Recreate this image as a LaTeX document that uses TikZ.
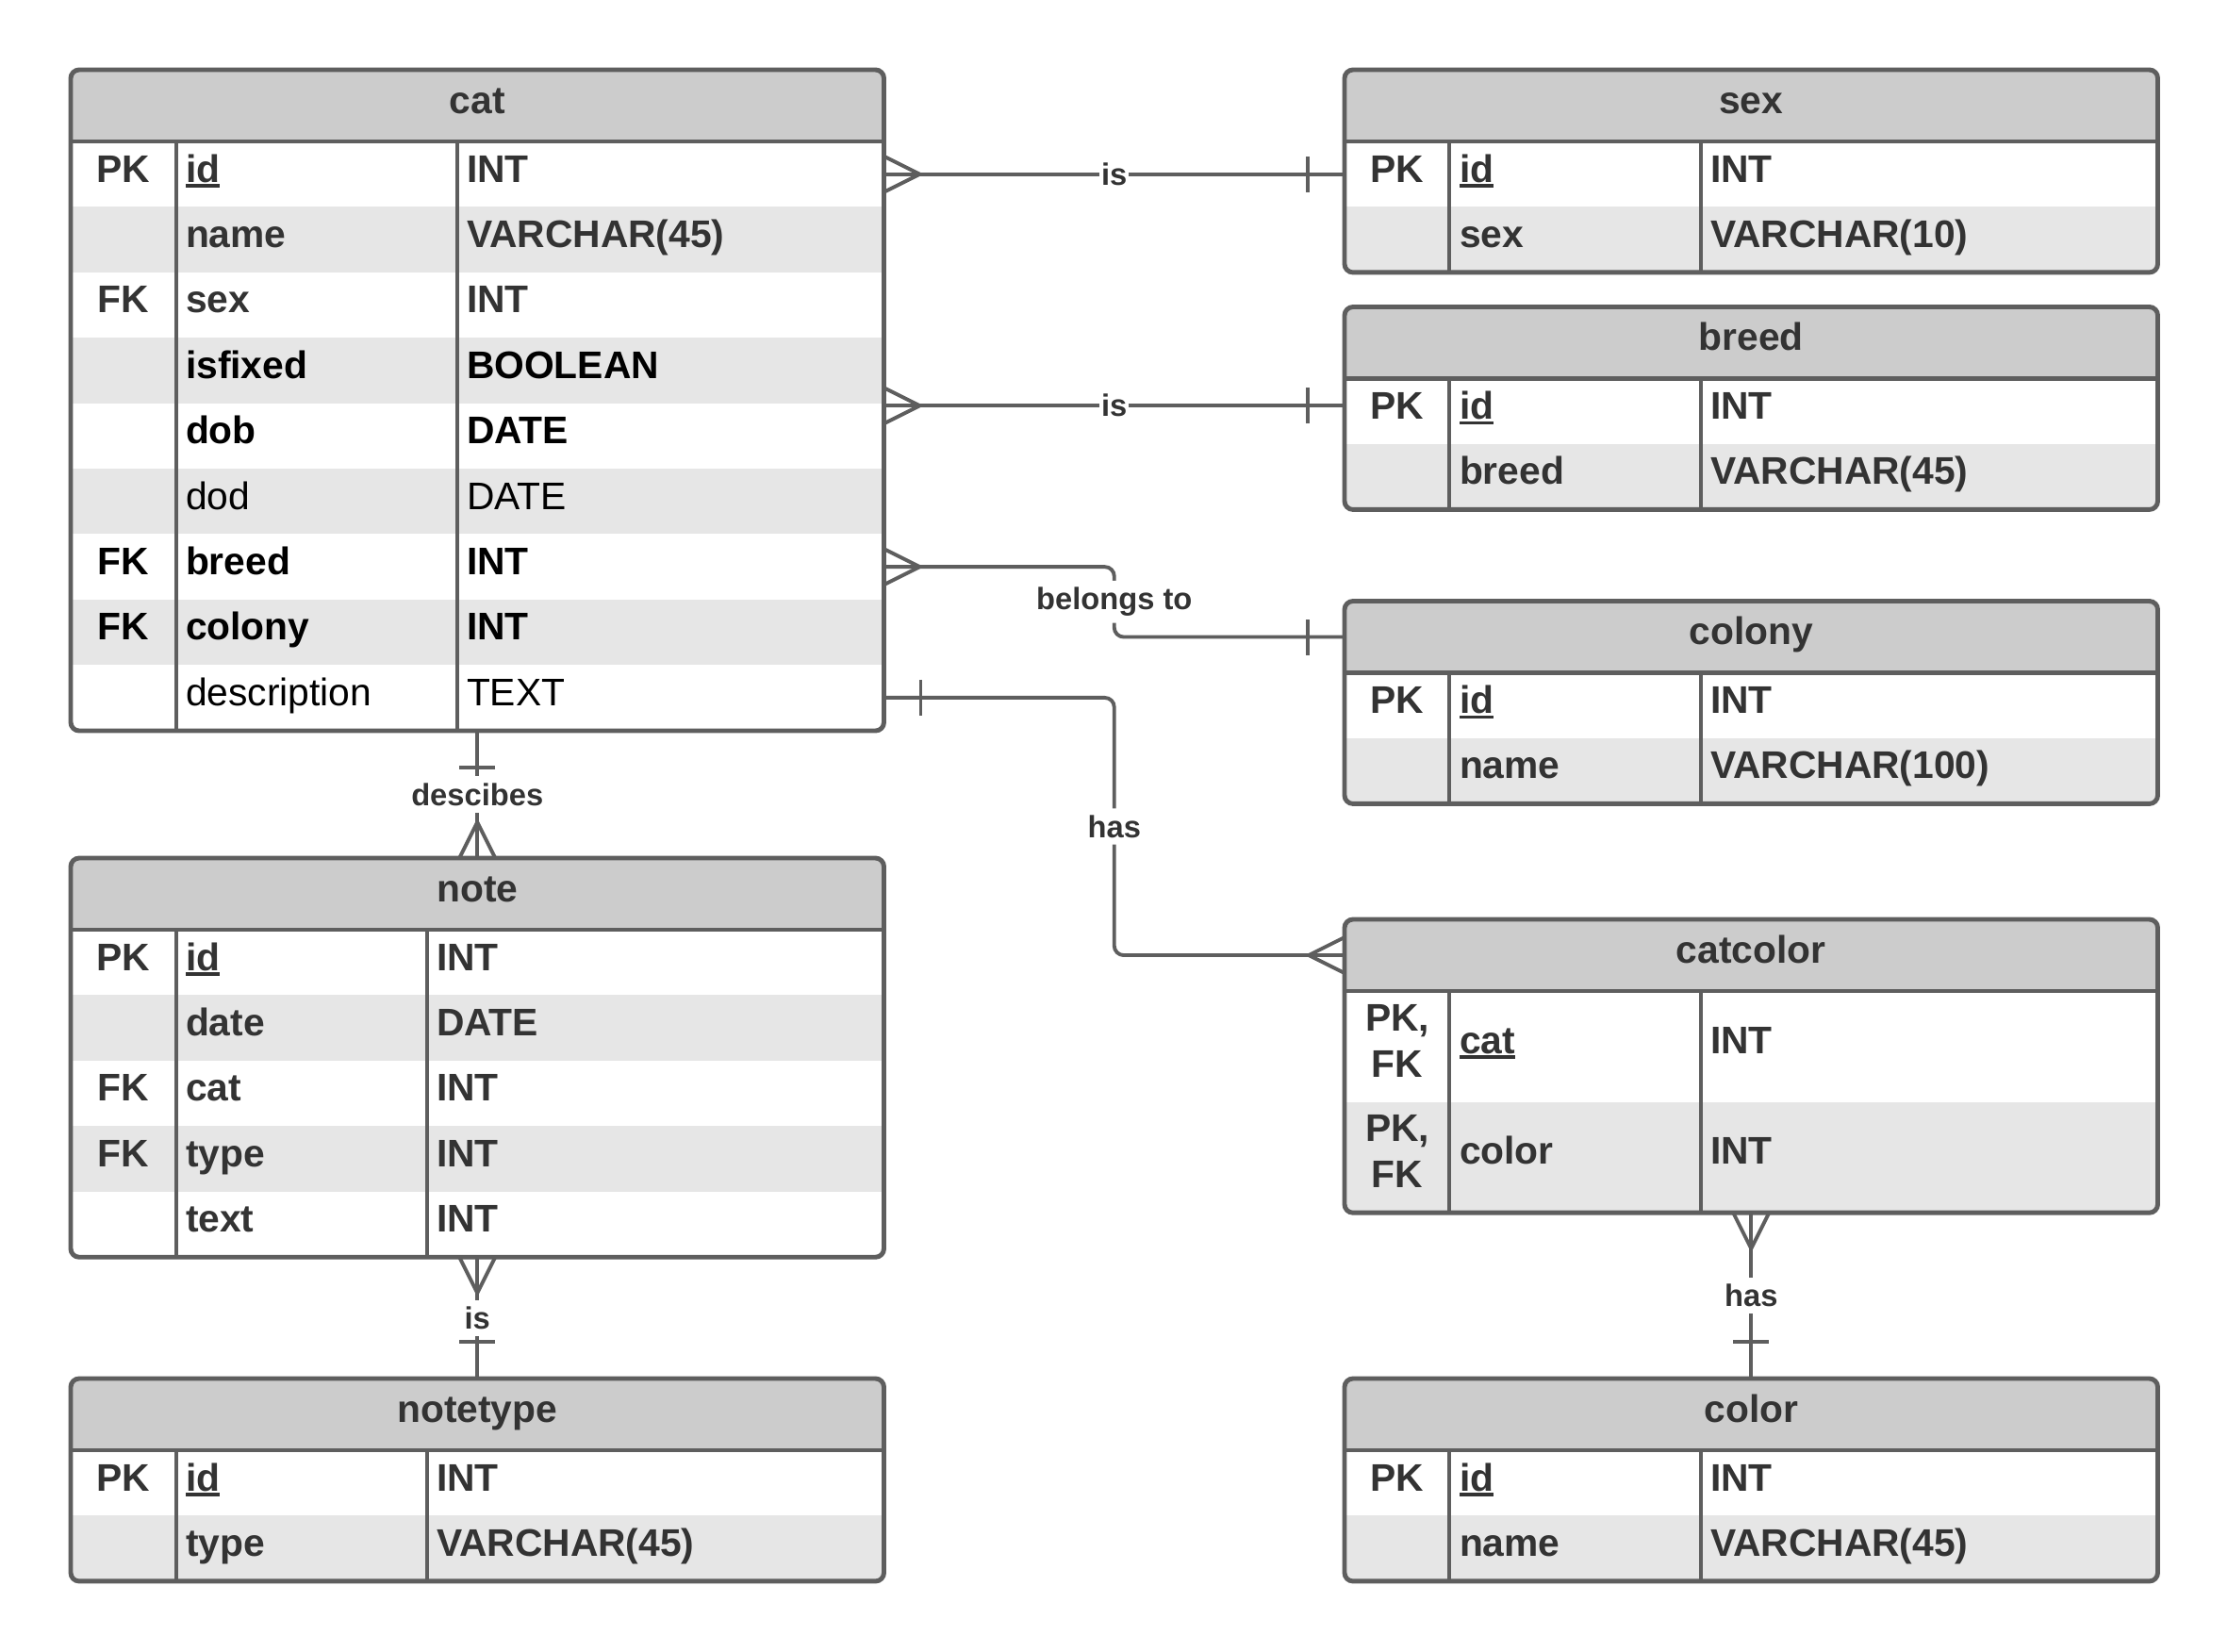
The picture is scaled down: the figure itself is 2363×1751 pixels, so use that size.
\documentclass[tikz,border=0pt]{standalone}
\usepackage{fontspec}
\setmainfont{Liberation Sans}
\usetikzlibrary{calc}

\definecolor{ink}{HTML}{333333}
\definecolor{erline}{HTML}{5E5E5E}
\definecolor{hdrgray}{HTML}{CCCCCC}
\definecolor{altgray}{HTML}{E6E6E6}

% underlined primary-key field name
\newcommand\pkul[1]{\setbox0\hbox{#1}\rlap{\rule[-1.6pt]{\wd0}{0.9pt}}\box0}

\def\erHdr{76}
\def\erRad{0.09cm}

% #1 name, #2 left, #3 right, #4 top, #5 rows, #6 row height,
% #7 key divider, #8 type divider, #9 title
\newcommand\ertable[9]{%
  \pgfmathsetmacro\erbot{#4+\erHdr+#5*#6}%
  \pgfmathsetmacro\erw{(#3-#2)/100}%
  \pgfmathsetmacro\erh{(\erbot-#4)/100}%
  \pgfmathsetmacro\erhh{\erHdr/100}%
  \pgfmathsetmacro\errh{#6/100}%
  \begin{scope}
    \clip[rounded corners=\erRad] (#2,#4) rectangle (#3,\erbot);
    \fill[hdrgray] (#2,#4) rectangle (#3,#4+\erHdr);
    \foreach \i in {1,...,#5}{%
      \ifodd\i\relax\else
        \fill[altgray] (#2,{#4+\erHdr+(\i-1)*#6}) rectangle (#3,{#4+\erHdr+\i*#6});
      \fi}
  \end{scope}
  \draw[frameline] (#7,#4+\erHdr) -- (#7,\erbot);
  \draw[frameline] (#8,#4+\erHdr) -- (#8,\erbot);
  \draw[frameline] (#2,#4+\erHdr) -- (#3,#4+\erHdr);
  \node[rowbox, minimum width=\erw cm, minimum height=\erhh cm] (#1h) at (#2,#4) {};
  \foreach \i in {1,...,#5}{%
    \node[rowbox, minimum width=\erw cm, minimum height=\errh cm] (#1\i) at (#2,{#4+\erHdr+(\i-1)*#6}) {};}
  \node[tableframe, minimum width=\erw cm, minimum height=\erh cm] (#1) at (#2,#4) {};
  \node[titletxt] (#1Title) at ($(#1h.north)+(0,46)$) {#9};
}

% one field row: [style] table, row, type column offset, key, name, type
\newcommand\fld[7][]{%
  \node[keytxt,#1] (#2K#3) at ($(#2#3.north west)+(56,43)$) {#5};
  \node[celltxt,#1] (#2N#3) at ($(#2#3.north west)+(122,43)$) {#6};
  \node[celltxt,#1] (#2T#3) at ($(#2#3.north west)+(#4,43)$) {#7};
}

\tikzset{
  frameline/.style={draw=erline, line width=1.4pt},
  tableframe/.style={draw=erline, line width=1.4pt, rounded corners=\erRad,
    inner sep=0pt, outer sep=0pt, anchor=north west},
  rowbox/.style={inner sep=0pt, outer sep=0pt, anchor=north west},
  txt/.style={font=\fontsize{11.6}{13.9}\selectfont\bfseries, text=ink,
    inner sep=0pt, outer sep=0pt},
  titletxt/.style={txt, anchor=base},
  keytxt/.style={txt, anchor=base},
  celltxt/.style={txt, anchor=base west},
  blk/.style={text=black},
  reg/.style={font=\fontsize{11.6}{13.9}\selectfont\mdseries},
  conn/.style={draw=erline, line width=1.1pt},
  lbl/.style={fill=white, text=ink, font=\fontsize{9.3}{11}\selectfont\bfseries,
    inner xsep=0.5pt, inner ysep=2pt},
  crow/.pic={\draw[conn] (0,-19) -- (38,0) -- (0,19);},
  onebar/.pic={\draw[conn] (39,-19) -- (39,19);}
}

\begin{document}
\begin{tikzpicture}[x=0.01cm, y=-0.01cm]
\useasboundingbox (0,0) rectangle (2363,1751);
\fill[white] (0,0) rectangle (2363,1751);

% tables
\ertable{cat}{75}{937}{74}{9}{69.4}{187}{485}{cat}
\ertable{sex}{1426}{2288}{74}{2}{69.4}{1537}{1804}{sex}
\ertable{breed}{1426}{2288}{325.5}{2}{69.4}{1537}{1804}{breed}
\ertable{colony}{1426}{2288}{637.5}{2}{69.4}{1537}{1804}{colony}
\ertable{catcolor}{1426}{2288}{975}{2}{117.5}{1537}{1804}{catcolor}
\ertable{color}{1426}{2288}{1462}{2}{69.4}{1537}{1804}{color}
\ertable{note}{75}{937}{910}{5}{69.4}{187}{453}{note}
\ertable{notetype}{75}{937}{1462}{2}{69.4}{187}{453}{notetype}

% fields
\fld{cat}{1}{420}{PK}{\pkul{id}}{INT}
\fld{cat}{2}{420}{}{name}{VARCHAR(45)}
\fld{cat}{3}{420}{FK}{sex}{INT}
\fld[blk]{cat}{4}{420}{}{isfixed}{BOOLEAN}
\fld[blk]{cat}{5}{420}{}{dob}{DATE}
\fld[blk,reg]{cat}{6}{420}{}{dod}{DATE}
\fld[blk]{cat}{7}{420}{FK}{breed}{INT}
\fld[blk]{cat}{8}{420}{FK}{colony}{INT}
\fld[blk,reg]{cat}{9}{420}{}{description}{TEXT}

\fld{sex}{1}{388}{PK}{\pkul{id}}{INT}
\fld{sex}{2}{388}{}{sex}{VARCHAR(10)}

\fld{breed}{1}{388}{PK}{\pkul{id}}{INT}
\fld{breed}{2}{388}{}{breed}{VARCHAR(45)}

\fld{colony}{1}{388}{PK}{\pkul{id}}{INT}
\fld{colony}{2}{388}{}{name}{VARCHAR(100)}

% composite keys take two lines
\node[keytxt] (catcolorK1a) at ($(catcolor1.north west)+(56,42)$) {PK,};
\node[keytxt] (catcolorK1b) at ($(catcolor1.north west)+(56,91)$) {FK};
\node[celltxt] (catcolorN1) at ($(catcolor1.north west)+(122,66)$) {\pkul{cat}};
\node[celltxt] (catcolorT1) at ($(catcolor1.north west)+(388,66)$) {INT};
\node[keytxt] (catcolorK2a) at ($(catcolor2.north west)+(56,42)$) {PK,};
\node[keytxt] (catcolorK2b) at ($(catcolor2.north west)+(56,91)$) {FK};
\node[celltxt] (catcolorN2) at ($(catcolor2.north west)+(122,66)$) {color};
\node[celltxt] (catcolorT2) at ($(catcolor2.north west)+(388,66)$) {INT};

\fld{color}{1}{388}{PK}{\pkul{id}}{INT}
\fld{color}{2}{388}{}{name}{VARCHAR(45)}

\fld{note}{1}{388}{PK}{\pkul{id}}{INT}
\fld{note}{2}{388}{}{date}{DATE}
\fld{note}{3}{388}{FK}{cat}{INT}
\fld{note}{4}{388}{FK}{type}{INT}
\fld{note}{5}{388}{}{text}{INT}

\fld{notetype}{1}{388}{PK}{\pkul{id}}{INT}
\fld{notetype}{2}{388}{}{type}{VARCHAR(45)}

% relationships
\coordinate (breedin) at ($(breed1.west)+(0,-6)$);

\draw[conn] (cat1.east) -- node[lbl] (lblSex) {is} (sex1.west);
\pic at (cat1.east) {crow};
\pic[rotate=180] at (sex1.west) {onebar};

\draw[conn] (cat.east |- breedin) -- node[lbl] (lblBreed) {is} (breedin);
\pic at (cat.east |- breedin) {crow};
\pic[rotate=180] at (breedin) {onebar};

\draw[conn, rounded corners=0.1cm] (cat7.east)
  -| ($(cat7.east)!0.5!(colonyh.west)$) node[lbl] (lblColony) {belongs to}
  |- (colonyh.west);
\pic at (cat7.east) {crow};
\pic[rotate=180] at (colonyh.west) {onebar};

\draw[conn, rounded corners=0.1cm] (cat9.east)
  -| ($(cat9.east)!0.5!(catcolorh.west)$) node[lbl] (lblCatcolor) {has}
  |- (catcolorh.west);
\pic at (cat9.east) {onebar};
\pic[rotate=180] at (catcolorh.west) {crow};

\draw[conn] (cat.south) -- node[lbl] (lblNote) {descibes} (note.north);
\pic[rotate=-90] at (cat.south) {onebar};
\pic[rotate=90] at (note.north) {crow};

\draw[conn] (note.south) -- node[lbl] (lblNotetype) {is} (notetype.north);
\pic[rotate=-90] at (note.south) {crow};
\pic[rotate=90] at (notetype.north) {onebar};

\draw[conn] (catcolor.south) -- node[lbl] (lblColor) {has} (color.north);
\pic[rotate=-90] at (catcolor.south) {crow};
\pic[rotate=90] at (color.north) {onebar};
\end{tikzpicture}
\end{document}
